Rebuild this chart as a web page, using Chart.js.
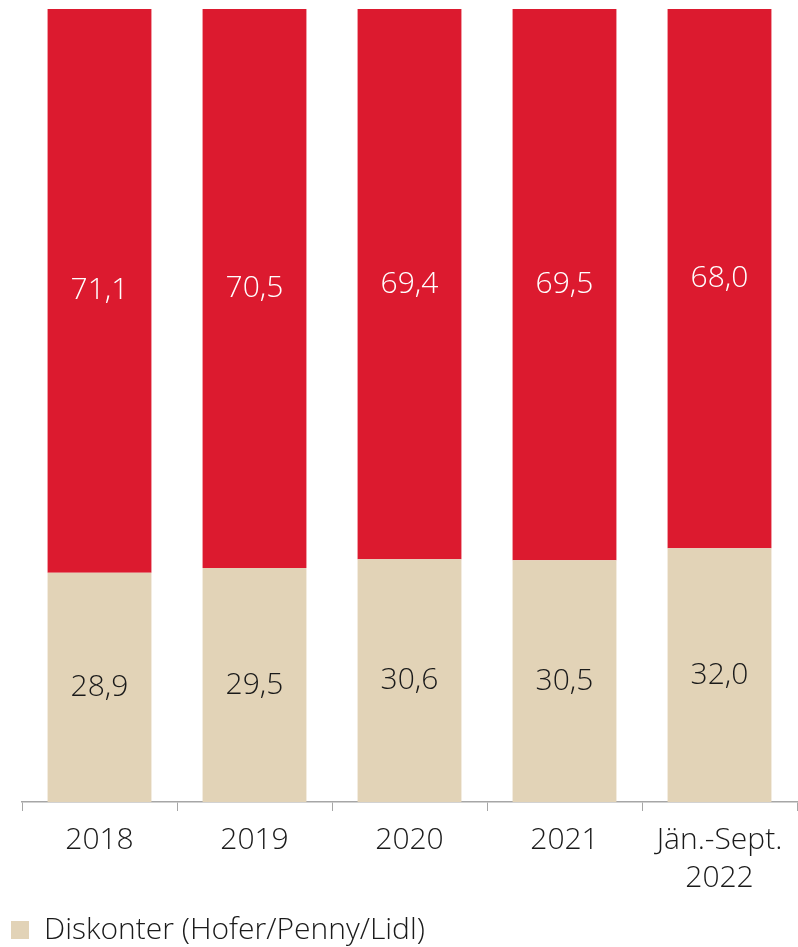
<!DOCTYPE html>
<html>
<head>
<meta charset="utf-8">
<script src="https://cdn.jsdelivr.net/npm/chart.js@4/dist/chart.umd.min.js"></script>
<style>
  html, body { margin: 0; padding: 0; background: #ffffff; }
  #wrap { width: 798px; height: 947px; position: relative; }
</style>
</head>
<body>
<div id="wrap"><canvas id="chart"></canvas></div>
<script>
// Data
const categories = ['2018', '2019', '2020', '2021', ['Jän.-Sept.', '2022']];
const diskonter = [28.9, 29.5, 30.6, 30.5, 32.0];
const andere = [71.1, 70.5, 69.4, 69.5, 68.0];

const FONT = "'Open Sans', 'Liberation Sans', sans-serif";
const RED = '#dc1a2f';
const BEIGE = '#e2d3b7';

// Value labels in the middle of every segment
const segmentLabels = {
    id: 'segmentLabels',
    afterDatasetsDraw(chart) {
        const ctx = chart.ctx;
        ctx.save();
        ctx.font = '300 30px ' + FONT;
        ctx.textAlign = 'center';
        ctx.textBaseline = 'middle';
        chart.data.datasets.forEach((ds, i) => {
            const meta = chart.getDatasetMeta(i);
            meta.data.forEach((bar, j) => {
                const p = bar.getProps(['x', 'y', 'base'], true);
                ctx.fillStyle = ds.labelColor;
                ctx.fillText(ds.data[j].toFixed(1).replace('.', ','), p.x, (p.y + p.base) / 2);
            });
        });
        ctx.restore();
    }
};

const ctx = document.getElementById('chart').getContext('2d');
new Chart(ctx, {
    type: 'bar',
    data: {
        labels: categories,
        datasets: [{
            label: 'Diskonter (Hofer/Penny/Lidl)',
            data: diskonter,
            backgroundColor: BEIGE,
            labelColor: '#1a1a1a',
            barPercentage: 0.67,
            categoryPercentage: 1
        }, {
            label: 'Andere',
            data: andere,
            backgroundColor: RED,
            labelColor: '#ffffff',
            barPercentage: 0.67,
            categoryPercentage: 1
        }]
    },
    options: {
        responsive: true,
        maintainAspectRatio: false,
        animation: false,
        layout: {
            padding: { top: 9, left: 0, right: 1, bottom: -8 }
        },
        plugins: {
            legend: {
                position: 'bottom',
                align: 'start',
                labels: {
                    filter: (item) => item.datasetIndex === 0,
                    boxWidth: 18,
                    boxHeight: 18,
                    padding: 11,
                    color: '#1a1a1a',
                    font: { family: FONT, size: 30, weight: '300' }
                }
            },
            tooltip: { enabled: false }
        },
        scales: {
            x: {
                stacked: true,
                afterFit: (scale) => { scale.height = 102; },
                grid: {
                    drawOnChartArea: false,
                    drawTicks: true,
                    tickLength: 9,
                    color: '#a6a6a6',
                    lineWidth: 1
                },
                border: { display: true, color: '#a6a6a6', width: 1.5 },
                ticks: {
                    color: '#1a1a1a',
                    padding: 11,
                    maxRotation: 0,
                    font: { family: FONT, size: 30, weight: '300', lineHeight: 1.25 }
                }
            },
            y: {
                stacked: true,
                min: 0,
                max: 100,
                afterFit: (scale) => { scale.width = 22; },
                grid: { display: false },
                border: { display: false },
                ticks: { display: false }
            }
        }
    },
    plugins: [segmentLabels]
});
</script>
</body>
</html>
